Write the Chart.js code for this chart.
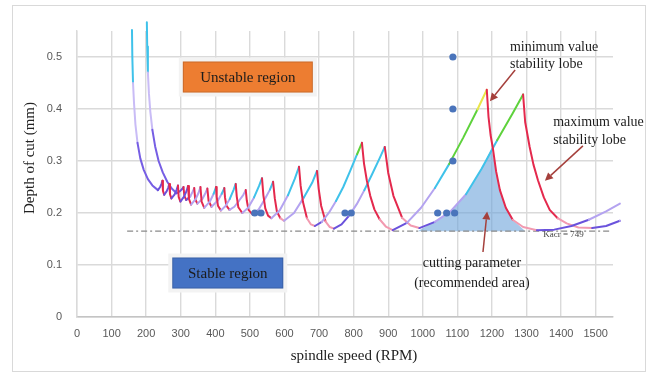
<!DOCTYPE html>
<html>
<head>
<meta charset="utf-8">
<script src="https://cdn.jsdelivr.net/npm/chart.js@4.4.1/dist/chart.umd.min.js"></script>
<style>
  html, body { margin: 0; padding: 0; background: #fff; }
</style>
</head>
<body>
<canvas id="lobeChart" width="657" height="374"></canvas>
<script>
// tick labels
const xTickValues = [0, 100, 200, 300, 400, 500, 600, 700, 800, 900, 1000, 1100, 1200, 1300, 1400, 1500];
const yTickValues = [0, 0.1, 0.2, 0.3, 0.4, 0.5];

// "minimum value" lobe family: steep branch at low speed, then the lobes
const asymLow = [[159,0.552],[160,0.5],[162,0.45],[165,0.41],[169,0.37],[175,0.335],[183,0.305],[193,0.283],[205,0.265],[218,0.253],[234,0.244]];
const lobesLow = [
  [234,0.244],[240.5,0.25],[244.4,0.256],[247,0.262],
  [248.5,0.243],[252,0.235],[259.5,0.242],[264,0.249],[267,0.256],
  [268.9,0.236],[273,0.228],[282.5,0.236],[288.2,0.245],[292,0.253],
  [294,0.231],[299,0.222],[310,0.232],[316.6,0.242],[321,0.252],
  [323.7,0.227],[330,0.216],[343.5,0.227],[351.6,0.239],[357,0.25],
  [360.3,0.222],[368,0.21],[385,0.223],[395.2,0.237],[402,0.25],
  [404,0.231],[407.6,0.214],[416,0.205],[429,0.213],[441.8,0.227],[452.5,0.244],[459,0.256],
  [461.9,0.232],[466.6,0.211],[478,0.2],[495,0.21],[512,0.23],[526.5,0.252],[535,0.267],
  [539,0.234],[544.5,0.209],[552.5,0.195],[562,0.19],[586,0.205],[610,0.234],[630,0.266],[642,0.289],
  [646.6,0.253],[653.5,0.221],[665,0.19],[676.5,0.178],[688,0.175],[708,0.183],[729,0.201],[749,0.223],[770,0.25],[790,0.281],[810,0.313],[824,0.335],
  [830,0.295],[838,0.263],[848,0.233],[860,0.207],[875,0.188],[893,0.174],[913,0.167],
  [954,0.181],[995,0.21],[1035,0.248],[1076,0.294],[1117,0.345],[1158,0.399],[1185,0.437],
  [1190,0.385],[1196,0.35],[1202,0.327],[1212,0.28],[1223,0.244],[1240,0.21],[1260,0.187],[1290,0.173],[1330,0.167],
  [1380,0.168],[1430,0.175],[1480,0.187],[1530,0.203],[1570,0.218],[1605,0.238]
];

// "maximum value" lobe family
const asymHigh = [[202,0.567],[203,0.52],[205,0.47],[208,0.43],[212,0.395],[218,0.36],[226,0.328],[236,0.3],[248,0.278],[261,0.26],[274,0.247],[288,0.238]];
const lobesHigh = [
  [288,0.238],[298,0.242],[304,0.246],[308,0.25],
  [310.4,0.233],[316,0.225],[327.5,0.232],[334.4,0.241],[339,0.248],
  [341.7,0.227],[348,0.218],[362.5,0.227],[371.2,0.238],[377,0.247],
  [380.6,0.223],[389,0.212],[407.5,0.224],[418.6,0.237],[426,0.248],
  [428,0.23],[432,0.214],[441,0.206],[455,0.212],[469,0.224],[481,0.235],[488,0.244],
  [491,0.224],[496,0.206],[508,0.197],[525.7,0.207],[543.4,0.227],[558,0.245],[567,0.26],
  [572,0.228],[578,0.203],[588,0.19],[599,0.185],[627.5,0.2],[656,0.23],[680,0.258],[694,0.281],
  [699,0.246],[706,0.214],[718.5,0.184],[731,0.173],[743,0.17],[765,0.178],[787,0.195],[809,0.217],[831,0.244],[853,0.274],[875,0.305],[890,0.327],
  [900,0.277],[915,0.233],[940,0.191],[965,0.176],[990,0.171],[1035,0.183],[1080,0.203],[1125,0.236],[1170,0.285],[1215,0.34],[1260,0.392],[1290,0.428],
  [1296,0.375],[1309,0.327],[1320,0.293],[1333,0.263],[1350,0.23],[1367,0.206],[1390,0.19],[1416,0.18],[1450,0.172],[1490,0.171],
  [1530,0.175],[1570,0.185],[1605,0.198]
];

// measured test points
const testPoints = [[514,0.2],[532,0.2],[775,0.2],[793,0.2],[1043,0.2],[1069,0.2],[1092,0.2],[1087,0.3],[1087,0.4],[1087,0.5]];

// recommended cutting area (upper edge) and critical depth line
const recommendedArea = [[985,0.165],[1035,0.184],[1080,0.203],[1125,0.235],[1170,0.285],[1199,0.325],[1212,0.28],[1223,0.244],[1240,0.21],[1260,0.187],[1280,0.175],[1295,0.166]];
const critDepth = 0.165;
const critLine = [[145, critDepth], [1546, critDepth]];

const PURPLE = '#6a52dc', LAVENDER = '#b4a3f0', CYAN = '#3fc2ea', GREEN = '#5ed23c', YELLOW = '#e9e54a';
const RED = '#e4294d', PINK = '#f29ab0';
const lowTh = { cyan: 0.235, green: 0.305, yellow: 0.38 };
const highTh = { cyan: 0.24, green: 0.335, yellow: 1 };

const toPts = arr => arr.map(([x, y]) => ({ x, y }));

function riseColor(x, y, th) {
  if (y >= th.yellow) return YELLOW;
  if (y >= th.green) return GREEN;
  if (y >= th.cyan && x > 390) return CYAN;
  if (y < 0.19 || x < 330) return PURPLE;
  return LAVENDER;
}

function lobeSegment(th) {
  return ctx => {
    const a = ctx.p0.parsed, b = ctx.p1.parsed;
    const y = (a.y + b.y) / 2;
    if (b.y < a.y) return y > 0.19 ? RED : PINK;
    return riseColor((a.x + b.x) / 2, y, th);
  };
}

function asymSegment(ctx) {
  const y = (ctx.p0.parsed.y + ctx.p1.parsed.y) / 2;
  if (y > 0.47) return CYAN;
  if (y > 0.345) return '#c9bcf6';
  return '#765ee4';
}

function lobeLine(data, segColor) {
  return {
    type: 'line', data: toPts(data), borderColor: PURPLE, borderWidth: 2,
    pointRadius: 0, tension: 0, clip: false,
    borderCapStyle: 'round', borderJoinStyle: 'round',
    segment: { borderColor: segColor }
  };
}

// text notes, anchored in data units
const notes = [
  { lines: ['minimum value', 'stability lobe'], x: 1252, y: 0.519, dy: 0.034, align: 'left' },
  { lines: ['maximum value', 'stability lobe'], x: 1377, y: 0.375, dy: 0.035, align: 'left' },
  { lines: ['cutting parameter', '(recommended area)'], x: 1142, y: 0.104, dy: 0.039, align: 'center' }
];
const arrows = [
  { from: [1267, 0.475], to: [1194, 0.415] },
  { from: [1463, 0.329], to: [1353, 0.262] },
  { from: [1174, 0.125], to: [1186, 0.203] }
];
const regionBoxes = [
  { text: 'Unstable region', x: 494, y: 0.4615, w: 130, h: 31, fill: '#ed7d31' },
  { text: 'Stable region', x: 436, y: 0.0846, w: 111, h: 31, fill: '#4472c4' }
];

const decorations = {
  id: 'decorations',
  beforeDraw(chart) {
    const ctx = chart.ctx;
    ctx.save();
    ctx.fillStyle = '#fff';
    ctx.fillRect(0, 0, chart.width, chart.height);
    ctx.strokeStyle = '#d9d9d9';
    ctx.lineWidth = 1;
    ctx.strokeRect(12.5, 5.5, 633, 366);
    ctx.restore();
  },
  afterDraw(chart) {
    const { ctx, scales: { x, y } } = chart;
    ctx.save();

    regionBoxes.forEach(b => {
      const cx = x.getPixelForValue(b.x), cy = y.getPixelForValue(b.y);
      ctx.fillStyle = '#f3f3f3';
      ctx.fillRect(cx - b.w / 2 - 4, cy - b.h / 2 - 4, b.w + 8, b.h + 8);
      ctx.fillStyle = b.fill;
      ctx.fillRect(cx - b.w / 2, cy - b.h / 2, b.w, b.h);
      ctx.strokeStyle = 'rgba(0,0,0,0.15)';
      ctx.lineWidth = 1;
      ctx.strokeRect(cx - b.w / 2 + 0.5, cy - b.h / 2 + 0.5, b.w - 1, b.h - 1);
      ctx.fillStyle = '#1c1c1c';
      ctx.font = '15px "Liberation Serif", "Times New Roman", serif';
      ctx.textAlign = 'center';
      ctx.textBaseline = 'middle';
      ctx.fillText(b.text, cx, cy + 1);
    });

    ctx.fillStyle = '#1c1c1c';
    ctx.font = '14px "Liberation Serif", "Times New Roman", serif';
    ctx.textBaseline = 'middle';
    notes.forEach(n => {
      ctx.textAlign = n.align;
      n.lines.forEach((t, i) => {
        ctx.fillText(t, x.getPixelForValue(n.x), y.getPixelForValue(n.y - i * n.dy));
      });
    });

    ctx.strokeStyle = '#a5403c';
    ctx.fillStyle = '#a5403c';
    ctx.lineWidth = 1.5;
    arrows.forEach(a => {
      const x0 = x.getPixelForValue(a.from[0]), y0 = y.getPixelForValue(a.from[1]);
      const x1 = x.getPixelForValue(a.to[0]), y1 = y.getPixelForValue(a.to[1]);
      const ang = Math.atan2(y1 - y0, x1 - x0);
      const hx = x1 - 8 * Math.cos(ang), hy = y1 - 8 * Math.sin(ang);
      ctx.beginPath();
      ctx.moveTo(x0, y0);
      ctx.lineTo(hx, hy);
      ctx.stroke();
      ctx.beginPath();
      ctx.moveTo(x1, y1);
      ctx.lineTo(hx + 4 * Math.sin(ang), hy - 4 * Math.cos(ang));
      ctx.lineTo(hx - 4 * Math.sin(ang), hy + 4 * Math.cos(ang));
      ctx.closePath();
      ctx.fill();
    });

    // small critical depth label
    ctx.fillStyle = '#444';
    ctx.font = '9px "Liberation Serif", serif';
    ctx.textAlign = 'left';
    ctx.fillText('Kacr = 749', x.getPixelForValue(1348), y.getPixelForValue(0.159));

    // axis titles
    ctx.fillStyle = '#222';
    ctx.font = '15px "Liberation Serif", "Times New Roman", serif';
    ctx.textAlign = 'center';
    ctx.fillText('spindle speed (RPM)', 354, 356);
    ctx.translate(30, 158);
    ctx.rotate(-Math.PI / 2);
    ctx.fillText('Depth of cut (mm)', 0, 0);
    ctx.restore();
  }
};

const tickFont = { family: '"Liberation Sans", Arial, sans-serif', size: 11 };

new Chart(document.getElementById('lobeChart'), {
  data: {
    datasets: [
      {
        type: 'scatter', data: toPts(testPoints), backgroundColor: '#4a74bb',
        pointRadius: 3.6, borderWidth: 0
      },
      lobeLine(lobesLow, lobeSegment(lowTh)),
      lobeLine(lobesHigh, lobeSegment(highTh)),
      lobeLine(asymLow, asymSegment),
      lobeLine(asymHigh, asymSegment),
      {
        type: 'line', data: toPts(critLine), borderColor: '#8a8a8a', borderWidth: 1.2,
        borderDash: [6, 3, 2, 3], pointRadius: 0
      },
      {
        type: 'line', data: toPts(recommendedArea), borderWidth: 0, pointRadius: 0,
        backgroundColor: 'rgba(108,164,218,0.6)', fill: { value: critDepth }
      }
    ]
  },
  options: {
    responsive: false,
    animation: false,
    layout: { padding: { left: 0, right: 44, top: 31, bottom: 0 } },
    plugins: { legend: { display: false }, tooltip: { enabled: false } },
    scales: {
      x: {
        type: 'linear', min: 0, max: 1550,
        afterBuildTicks: ax => { ax.ticks = xTickValues.map(v => ({ value: v })); },
        afterFit: ax => { ax.height = 57; },
        grid: { color: '#dadada', lineWidth: 1.4, drawTicks: false },
        border: { color: '#c4c4c4', width: 1.5 },
        ticks: {
          padding: 10, color: '#595959', font: tickFont, maxRotation: 0, autoSkip: false,
          callback: v => String(v)
        }
      },
      y: {
        type: 'linear', min: 0, max: 0.55,
        afterBuildTicks: ax => { ax.ticks = yTickValues.map(v => ({ value: v })); },
        afterFit: ax => { ax.width = 77; },
        grid: { color: '#dadada', lineWidth: 1.4, drawTicks: false },
        border: { color: '#dadada', width: 1.4 },
        ticks: {
          padding: 15, color: '#595959', font: tickFont,
          callback: v => (v === 0 ? '0' : v.toFixed(1))
        }
      }
    }
  },
  plugins: [decorations]
});
</script>
</body>
</html>
